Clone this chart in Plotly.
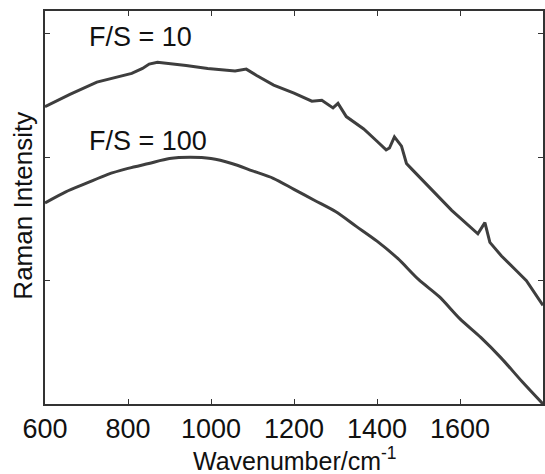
import plotly.graph_objects as go

# F/S = 10 spectrum (wavenumber, intensity in arbitrary units)
upper_w = [600, 660, 725, 770, 809, 835, 851, 871, 900, 940, 992, 1030, 1058, 1085,
           1109, 1151, 1200, 1243, 1267, 1294, 1306, 1326, 1368, 1400, 1422, 1430,
           1442, 1459, 1471, 1485, 1526, 1580, 1643, 1660, 1672, 1700, 1736, 1760, 1800]
upper_v = [2.41, 2.51, 2.61, 2.65, 2.68, 2.72, 2.756, 2.77, 2.76, 2.745, 2.72, 2.71,
           2.70, 2.715, 2.665, 2.585, 2.52, 2.455, 2.462, 2.40, 2.437, 2.33, 2.23,
           2.13, 2.06, 2.075, 2.165, 2.09, 1.95, 1.90, 1.76, 1.57, 1.38, 1.47, 1.31,
           1.20, 1.08, 1.00, 0.80]

# F/S = 100 spectrum
lower_w = [600, 650, 700, 750, 800, 850, 900, 950, 1000, 1050, 1100, 1150, 1200, 1250,
           1300, 1350, 1400, 1450, 1500, 1550, 1600, 1650, 1700, 1750, 1800]
lower_v = [1.63, 1.72, 1.79, 1.86, 1.91, 1.95, 1.99, 2.00, 1.99, 1.95, 1.89, 1.83, 1.74,
           1.65, 1.56, 1.44, 1.32, 1.18, 1.01, 0.87, 0.69, 0.54, 0.37, 0.18, 0.0]

x_ticks = [600, 800, 1000, 1200, 1400, 1600]
y_ticks = [0, 1, 2, 3]
labels = ["F/S = 10", "F/S = 100"]

FONT = "Liberation Sans, Arial, sans-serif"
LINE = "#3e3e3e"
TXT = "#111111"

fig = go.Figure()
fig.add_trace(go.Scatter(x=upper_w, y=upper_v, mode="lines",
                         line=dict(color=LINE, width=3), showlegend=False))
fig.add_trace(go.Scatter(x=lower_w, y=lower_v, mode="lines",
                         line=dict(color=LINE, width=3, shape="spline", smoothing=0.8),
                         showlegend=False))

fig.update_layout(
    width=545, height=474,
    margin=dict(l=45, r=0, t=11, b=70),
    paper_bgcolor="white", plot_bgcolor="white",
    font=dict(family=FONT, size=27, color=TXT),
    showlegend=False,
)
fig.update_xaxes(range=[600, 1800], tickvals=x_ticks, ticks="inside", ticklen=5,
                 tickwidth=1.2, tickcolor="#333333", showline=True, linecolor="#333333",
                 linewidth=1.5, mirror="ticks", showgrid=False, zeroline=False,
                 tickfont=dict(size=27, family=FONT, color=TXT))
fig.update_yaxes(range=[0, 3.186], tickvals=y_ticks, showticklabels=False,
                 ticks="inside", ticklen=5, tickwidth=1.2, tickcolor="#333333",
                 showline=True, linecolor="#333333", linewidth=1.5, mirror="ticks",
                 showgrid=False, zeroline=False)

fig.add_annotation(x=0.084, y=0.934, xref="paper", yref="paper", text=labels[0],
                   showarrow=False, xanchor="left", yanchor="middle",
                   font=dict(size=27, family=FONT, color=TXT))
fig.add_annotation(x=0.084, y=0.669, xref="paper", yref="paper", text=labels[1],
                   showarrow=False, xanchor="left", yanchor="middle",
                   font=dict(size=27, family=FONT, color=TXT))
fig.add_annotation(x=-0.046, y=0.505, xref="paper", yref="paper", text="Raman Intensity",
                   showarrow=False, textangle=-90, xanchor="center", yanchor="middle",
                   font=dict(size=26, family=FONT, color=TXT))
fig.add_annotation(x=0.503, y=-0.094, xref="paper", yref="paper",
                   text="Wavenumber/cm<sup>-1</sup>", showarrow=False,
                   xanchor="center", yanchor="top",
                   font=dict(size=25, family=FONT, color=TXT))

fig.write_html("out.html", config={"displayModeBar": False},
               post_script="document.body.style.margin='0';"
                           "document.body.style.overflow='hidden';")
